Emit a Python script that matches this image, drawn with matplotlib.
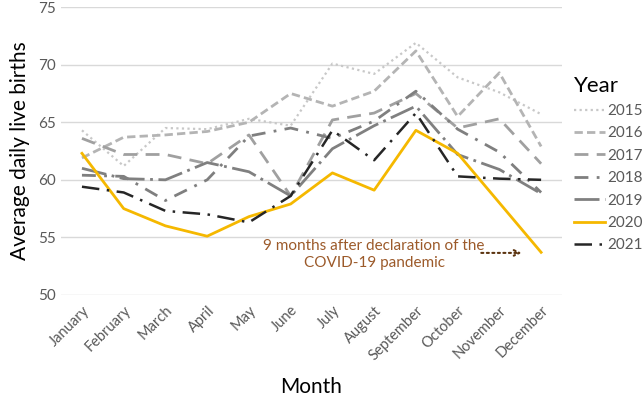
#!/usr/bin/env python3
"""Average daily live births per month, 2015-2021."""

import matplotlib

matplotlib.use("Agg")
import matplotlib.pyplot as plt

months = ["January", "February", "March", "April", "May", "June", "July",
          "August", "September", "October", "November", "December"]

y2015 = [64.3, 61.2, 64.5, 64.4, 65.3, 64.7, 70.1, 69.2, 71.9, 68.9, 67.6, 65.7]
y2016 = [61.9, 63.7, 63.9, 64.2, 65.0, 67.5, 66.4, 67.7, 71.2, 65.5, 69.3, 62.9]
y2017 = [63.6, 62.2, 62.2, 61.4, 63.9, 58.6, 65.2, 65.8, 67.5, 64.5, 65.3, 61.4]
y2018 = [60.4, 60.3, 58.2, 60.0, 63.8, 64.5, 63.6, 65.1, 67.7, 64.4, 62.4, 58.9]
y2019 = [61.0, 60.1, 60.0, 61.5, 60.7, 58.6, 62.7, 64.7, 66.4, 62.2, 60.9, 58.8]
y2020 = [62.3, 57.5, 56.0, 55.1, 56.8, 57.9, 60.6, 59.1, 64.3, 62.3, 58.0, 53.7]
y2021 = [59.4, 58.9, 57.3, 57.0, 56.3, 58.6, 64.3, 61.7, 65.8, 60.3, 60.1, 60.0]

plt.rcParams["font.family"] = ["Lato", "DejaVu Sans"]

fig = plt.figure(figsize=(6.43, 3.98), dpi=100)
ax = fig.add_axes([0.095, 0.259, 0.779, 0.723])

x = range(len(months))
ax.plot(x, y2015, color="#c8c8c8", lw=1.6, ls=(0, (1, 1.5)), label="2015")
ax.plot(x, y2016, color="#b4b4b4", lw=2.0, ls=(0, (3, 1.5)), label="2016")
ax.plot(x, y2017, color="#a0a0a0", lw=2.0, ls=(0, (5, 3)), label="2017")
ax.plot(x, y2018, color="#7f7f7f", lw=2.0, ls=(0, (5, 3, 1, 3)), label="2018")
ax.plot(x, y2019, color="#808080", lw=2.0, ls=(0, (9, 2, 1, 2)), label="2019")
ax.plot(x, y2020, color="#f5b800", lw=2.0, label="2020")
ax.plot(x, y2021, color="#262626", lw=1.8, ls=(0, (7, 3, 1, 3)), label="2021")

ax.set_xlim(-0.5, 11.5)
ax.set_ylim(50, 75)
ax.set_yticks([50, 55, 60, 65, 70, 75])
ax.set_xticks(list(x))
ax.set_xticklabels(months, rotation=45, ha="right", rotation_mode="anchor")
ax.tick_params(length=0, colors="#595959", labelsize=11)
ax.tick_params(axis="x", labelsize=10.5, pad=6)
for s in ax.spines.values():
    s.set_visible(False)
ax.grid(axis="y", color="#d9d9d9", lw=1)
ax.set_axisbelow(True)

ax.set_ylabel("Average daily live births", fontsize=15, labelpad=6)
ax.set_xlabel("Month", fontsize=15, labelpad=10)

ax.text(7.0, 53.5, "9 months after declaration of the\nCOVID-19 pandemic",
        ha="center", va="center", color="#9c5a2a", fontsize=11, linespacing=1.25)
ax.annotate("", xy=(10.6, 53.65), xytext=(9.5, 53.65),
            arrowprops=dict(arrowstyle="->", color="#5c3410", lw=1.5, ls=":"))

leg = fig.legend(title="Year", loc="upper left", bbox_to_anchor=(0.893, 0.81),
                 frameon=False, fontsize=11, title_fontsize=16,
                 handlelength=2.0, handletextpad=0.15, labelspacing=0.55,
                 borderaxespad=0, borderpad=0)
leg._legend_box.align = "left"
for t in leg.get_texts():
    t.set_color("#595959")

fig.savefig("out.png", dpi=100)
